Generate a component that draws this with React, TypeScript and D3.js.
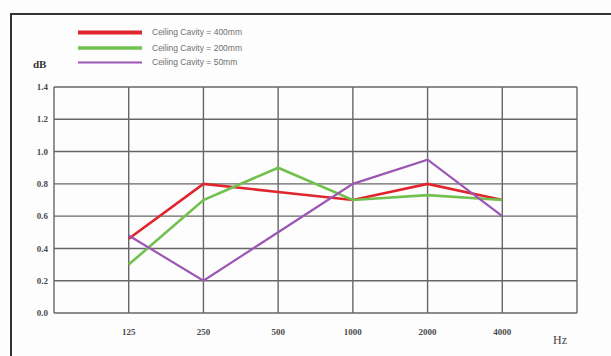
import React from "react";
import * as d3 from "d3";

const categories = ["125", "250", "500", "1000", "2000", "4000"];
const yTicks = [0, 0.2, 0.4, 0.6, 0.8, 1.0, 1.2, 1.4];
const series400 = [0.46, 0.8, 0.75, 0.7, 0.8, 0.7];
const series200 = [0.3, 0.7, 0.9, 0.7, 0.73, 0.7];
const series50 = [0.48, 0.2, 0.5, 0.8, 0.95, 0.6];
const seriesNames = ["Ceiling Cavity = 400mm", "Ceiling Cavity = 200mm", "Ceiling Cavity = 50mm"];

const W = 611;
const H = 356;
const plot = { left: 54, right: 577, top: 87, bottom: 313 };

export default function App() {
  const x = d3.scalePoint<string>().domain(categories).range([plot.left, plot.right]).padding(1);
  const y = d3.scaleLinear().domain([0, 1.4]).range([plot.bottom, plot.top]);
  const step = x.step();
  const vLines = d3.range(0, categories.length + 2).map((i) => plot.left + i * step);

  const line = d3
    .line<number>()
    .x((_, i) => x(categories[i]) as number)
    .y((d) => y(d));

  const series = [
    { name: seriesNames[0], values: series400, color: "#e0262c", width: 2.6, legendWidth: 4 },
    { name: seriesNames[1], values: series200, color: "#72c04e", width: 2.6, legendWidth: 3.5 },
    { name: seriesNames[2], values: series50, color: "#9c56b4", width: 2.2, legendWidth: 1.8 },
  ];
  const legendY = [32.5, 48, 62.5];

  return (
    <svg
      width={W}
      height={H}
      style={{ position: "absolute", left: 0, top: 0, background: "#fdfdfd" }}
      fontFamily="'Liberation Serif', 'DejaVu Serif', serif"
    >
      <rect x={0} y={0} width={W} height={H} fill="#fdfdfd" />
      {/* outer frame */}
      <line x1={11} x2={W} y1={14} y2={14} stroke="#333" strokeWidth={2} />
      <line x1={11} x2={11} y1={13} y2={H} stroke="#333" strokeWidth={2} />

      {/* legend */}
      {series.map((s, i) => (
        <g key={s.name}>
          <line x1={78} x2={142} y1={legendY[i]} y2={legendY[i]} stroke={s.color} strokeWidth={s.legendWidth} />
          <text
            x={152}
            y={legendY[i]}
            dy="0.35em"
            fontSize={8.5}
            fill="#707070"
            fontFamily="'Liberation Sans', Arial, sans-serif"
          >
            {s.name}
          </text>
        </g>
      ))}

      <text x={33} y={64} dy="0.35em" fontSize={11} fontWeight="bold" fill="#333">
        dB
      </text>

      {/* grid */}
      {yTicks.map((t) => (
        <line key={"h" + t} x1={plot.left} x2={plot.right} y1={y(t)} y2={y(t)} stroke="#666" strokeWidth={1.4} />
      ))}
      {vLines.map((vx, i) => (
        <line key={"v" + i} x1={vx} x2={vx} y1={plot.top} y2={plot.bottom} stroke="#666" strokeWidth={1.4} />
      ))}

      {/* y tick labels */}
      {yTicks.map((t) => (
        <text
          key={"yl" + t}
          x={48}
          y={y(t)}
          dy="0.35em"
          textAnchor="end"
          fontSize={9}
          fontWeight="bold"
          fill="#4a4a4a"
        >
          {t.toFixed(1)}
        </text>
      ))}

      {/* x tick labels */}
      {categories.map((c) => (
        <text
          key={"xl" + c}
          x={x(c) as number}
          y={332}
          dy="0.35em"
          textAnchor="middle"
          fontSize={9}
          fontWeight="bold"
          fill="#4a4a4a"
        >
          {c}
        </text>
      ))}
      <text x={560} y={340} dy="0.35em" textAnchor="middle" fontSize={12} fill="#444">
        Hz
      </text>

      {/* series lines */}
      {series.map((s) => (
        <path
          key={"p" + s.name}
          d={line(s.values) as string}
          fill="none"
          stroke={s.color}
          strokeWidth={s.width}
          strokeLinejoin="miter"
        />
      ))}
    </svg>
  );
}
